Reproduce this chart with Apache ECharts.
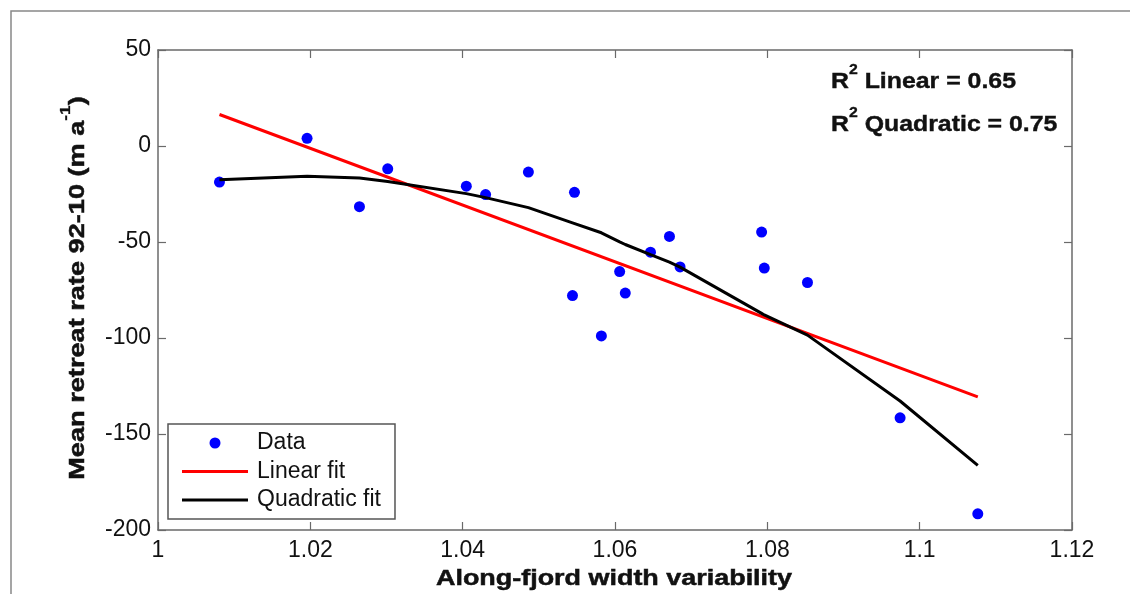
<!DOCTYPE html>
<html>
<head>
<meta charset="utf-8">
<script src="https://cdn.jsdelivr.net/npm/echarts@6/dist/echarts.min.js"></script>
<style>html,body{margin:0;padding:0;background:#fff;overflow:hidden;}#c{width:1130px;height:594px;}</style>
</head>
<body>
<div id="c"></div>
<script>
// Data
const dataX = [1.00807, 1.01957, 1.02645, 1.03016, 1.04048, 1.04301, 1.04863, 1.05468, 1.05442, 1.05821,
               1.06061, 1.06135, 1.06715, 1.06466, 1.06854, 1.07925, 1.07960, 1.08527, 1.09743, 1.10763];
const dataY = [-18.8, 4.0, -31.6, -11.9, -20.9, -25.3, -13.6, -24.1, -77.9, -98.9,
               -65.4, -76.6, -47.1, -55.3, -63.0, -44.8, -63.6, -71.1, -141.6, -191.6];
const linFitX = [1.00807, 1.10763];
const linFitY = [16.4, -130.7];
const quadFitX = [1.00807, 1.01957, 1.02645, 1.03016, 1.04048, 1.04301, 1.04863, 1.05442, 1.05468, 1.05821,
                  1.06061, 1.06135, 1.06466, 1.06715, 1.06854, 1.07925, 1.07960, 1.08527, 1.09743, 1.10763];
const quadFitY = [-17.6, -15.7, -16.7, -18.5, -24.8, -26.9, -32.1, -40.0, -40.2, -45.2,
                  -49.9, -51.3, -56.6, -60.5, -63.1, -87.2, -88.0, -98.5, -132.8, -166.3];
const xTicks = {min: 1, max: 1.12, interval: 0.02};
const yTicks = {min: -200, max: 50, interval: 50};
const xTitle = 'Along-fjord width variability';
const yTitle = ['Mean retreat rate 92-10 (m a', '-1', ')'];
const r2Linear = '0.65';
const r2Quadratic = '0.75';

const FONT = "'Liberation Sans', Arial, sans-serif";
const AX = '#6a6a6a';
const zip = (a, b) => a.map((v, i) => [v, b[i]]);
const LINE_ICON = 'path://M0,0 L0.01,0 M0,4 L66,4 L66,7 L0,7 Z M66,11 L65.99,11';

const baseAxis = {
  type: 'value',
  axisLine: {show: true, onZero: false, lineStyle: {color: AX, width: 1.5}},
  axisTick: {show: true, inside: true, length: 8, lineStyle: {color: AX, width: 1.2}},
  splitLine: {show: false},
};

const chart = echarts.init(document.getElementById('c'), null, {renderer: 'canvas', width: 1130, height: 594});
chart.setOption({
  animation: false,
  backgroundColor: '#fff',
  grid: {left: 158, right: 58, top: 50, bottom: 64, containLabel: false, outerBoundsMode: 'none'},
  xAxis: [
    Object.assign({}, baseAxis, {
      position: 'bottom', min: xTicks.min, max: xTicks.max, interval: xTicks.interval,
      axisLabel: {fontFamily: FONT, fontSize: 23, color: '#111', margin: 9}
    }),
    Object.assign({}, baseAxis, {
      position: 'top', min: xTicks.min, max: xTicks.max, interval: xTicks.interval,
      axisLabel: {show: false}
    })
  ],
  yAxis: [
    Object.assign({}, baseAxis, {
      position: 'left', min: yTicks.min, max: yTicks.max, interval: yTicks.interval,
      axisLabel: {fontFamily: FONT, fontSize: 23, color: '#111', margin: 7}
    }),
    Object.assign({}, baseAxis, {
      position: 'right', min: yTicks.min, max: yTicks.max, interval: yTicks.interval,
      axisLabel: {show: false}
    })
  ],
  legend: {
    orient: 'vertical', left: 168, top: 424,
    backgroundColor: '#fff', borderColor: '#555', borderWidth: 1.5, borderRadius: 0,
    padding: [7.5, 14, 7.5, 14], itemGap: 5.5, itemWidth: 66, itemHeight: 11,
    textStyle: {fontFamily: FONT, fontSize: 23, color: '#111', lineHeight: 23, padding: [0, 0, 0, 4]},
    data: [
      {name: 'Data', icon: 'circle', itemStyle: {color: '#0000ff', opacity: 1}},
      {name: 'Linear fit', icon: LINE_ICON, itemStyle: {color: '#ff0000'}},
      {name: 'Quadratic fit', icon: LINE_ICON, itemStyle: {color: '#000000'}}
    ]
  },
  graphic: [
    {type: 'rect', silent: true, z: -10,
     shape: {x: 11, y: 11, width: 1400, height: 800},
     style: {fill: 'none', stroke: '#888', lineWidth: 1.5}},
    // x-axis title
    {type: 'text', x: 614, y: 579, scaleX: 1.224, z: 100, silent: true,
     style: {text: xTitle, font: 'bold 22px ' + FONT, fill: '#111', stroke: '#111', lineWidth: 0.5,
       align: 'center', verticalAlign: 'middle'}},
    // y-axis title
    {type: 'text', x: 78, y: 288, rotation: Math.PI / 2, scaleX: 1.234, z: 100, silent: true,
     style: {text: yTitle[0] + '{sup|' + yTitle[1] + '}' + yTitle[2], font: 'bold 22px ' + FONT,
       fill: '#111', stroke: '#111', lineWidth: 0.5,
       align: 'center', verticalAlign: 'middle', lineHeight: 38,
       rich: {sup: {font: 'bold 14px ' + FONT, fill: '#111', stroke: '#111', lineWidth: 0.3, verticalAlign: 'top', lineHeight: 14}}}},
    // R^2 annotations
    {type: 'text', x: 831, y: 82, scaleX: 1.13, z: 100, silent: true,
     style: {text: 'R{sup|2} Linear = ' + r2Linear, font: 'bold 22px ' + FONT, fill: '#111',
       stroke: '#111', lineWidth: 0.4, align: 'left', verticalAlign: 'middle', lineHeight: 38,
       rich: {sup: {font: 'bold 14px ' + FONT, fill: '#111', stroke: '#111', lineWidth: 0.3, verticalAlign: 'top', lineHeight: 14}}}},
    {type: 'text', x: 831, y: 125, scaleX: 1.13, z: 100, silent: true,
     style: {text: 'R{sup|2} Quadratic = ' + r2Quadratic, font: 'bold 22px ' + FONT, fill: '#111',
       stroke: '#111', lineWidth: 0.4, align: 'left', verticalAlign: 'middle', lineHeight: 38,
       rich: {sup: {font: 'bold 14px ' + FONT, fill: '#111', stroke: '#111', lineWidth: 0.3, verticalAlign: 'top', lineHeight: 14}}}}
  ],
  series: [
    {name: 'Data', type: 'scatter', symbol: 'circle', symbolSize: 11, z: 2,
     itemStyle: {color: '#0000ff', opacity: 1}, data: zip(dataX, dataY)},
    {name: 'Linear fit', type: 'line', symbol: 'none', z: 3,
     lineStyle: {color: '#ff0000', width: 3}, itemStyle: {color: '#ff0000'}, data: zip(linFitX, linFitY)},
    {name: 'Quadratic fit', type: 'line', symbol: 'none', z: 4,
     lineStyle: {color: '#000000', width: 3}, itemStyle: {color: '#000000'}, data: zip(quadFitX, quadFitY)}
  ]
});
</script>
</body>
</html>
